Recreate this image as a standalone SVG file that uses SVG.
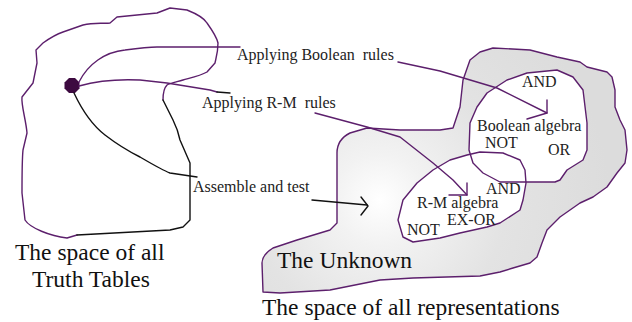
<svg xmlns="http://www.w3.org/2000/svg" width="632" height="322" viewBox="0 0 632 322">
  <defs>
    <radialGradient id="unknownFill" gradientUnits="userSpaceOnUse" cx="380" cy="200" r="230">
      <stop offset="0" stop-color="#ffffff"/>
      <stop offset="0.2" stop-color="#f2f2f2"/>
      <stop offset="0.55" stop-color="#e3e3e3"/>
      <stop offset="1" stop-color="#dcdcdc"/>
    </radialGradient>
  </defs>
  <style>
    .outline { fill: none; stroke: #5c1f6c; stroke-width: 1.4; stroke-linejoin: round; stroke-linecap: round; }
    .ink { fill: none; stroke: #111111; stroke-width: 1.4; stroke-linejoin: round; stroke-linecap: round; }
    .big { font-family: "Liberation Serif", "Times New Roman", serif; font-size: 23.5px; fill: #111111; }
    .small { font-family: "Liberation Serif", "Times New Roman", serif; font-size: 16px; fill: #222222; white-space: pre; }
  </style>

  <rect width="632" height="322" fill="#ffffff"/>

  <!-- space of all truth tables -->
  <g id="truth-tables">
    <path class="outline" d="M 77,235 L 67,238 C 50,236 30,228 25,220 L 22,193 C 22,170 22,160 23,150 L 27,133 C 26,120 21,105 22,97 L 33,83 L 37,63 L 36,50 L 43,43 C 50,38 57,34 63,32 L 83,25 C 95,22 105,24 110,23 L 117,17 L 157,13 L 170,8 L 187,10 C 197,14 204,18 207,23 C 212,30 217,38 218,43 C 218,52 216,58 215,63 L 207,72 C 200,76 190,78 183,80 C 176,82 170,83 167,85 C 163,89 163,95 163,100"/>
    <path class="ink" d="M 163,100 L 173,120 C 177,128 179,135 180,140 L 190,163 L 190,220 L 183,227 L 170,230 L 77,235"/>
    <polygon id="start-point" points="75,78 79.5,82.5 79.5,88.5 75,93 69,93 64.5,88.5 64.5,82.5 69,78" fill="#3d0a40"/>
    <text class="big" x="15" y="260">The space of all</text>
    <text class="big" x="32" y="287">Truth Tables</text>
  </g>

  <!-- space of all representations -->
  <g id="unknown">
    <path d="M 350,133 C 340,138 337,145 337,153 L 337,223 L 330,230 L 297,240 L 273,248 C 265,253 262,258 262,263 L 263,292 L 280,293 L 330,290 L 380,280 L 413,278 L 480,276 L 500,272 L 513,268 L 530,263 L 537,257 L 542,243 L 547,230 L 560,217 L 580,203 L 593,197 L 607,187 L 617,173 L 625,163 L 627,150 L 625,130 L 620,120 L 615,107 L 615,90 L 612,77 L 607,72 L 587,67 L 580,62 L 557,57 L 530,50 L 493,48 L 480,52 L 470,60 L 463,80 L 460,107 L 453,128 L 440,130 L 400,130 L 367,128 Z" fill="url(#unknownFill)" stroke="#5c1f6c" stroke-width="1.4" stroke-linejoin="round"/>
    <text class="big" x="277" y="268">The Unknown</text>
    <text class="big" x="262" y="315">The space of all representations</text>
  </g>

  <!-- Boolean algebra region -->
  <g id="boolean-algebra">
    <path id="boolean-shape" d="M 487,93 L 507,80 L 527,73 L 557,70 L 573,77 L 583,90 L 587,123 L 587,150 L 583,160 L 567,170 L 560,180 L 555,182 L 500,182 L 483,173 L 473,163 L 469,150 L 470,123 L 477,107 Z" fill="#ffffff"/>
  </g>

  <!-- R-M algebra region -->
  <g id="rm-algebra">
    <path id="rm-shape" d="M 467,155 L 480,152 L 503,153 L 520,160 L 525,170 L 526,183 L 523,200 L 520,210 L 500,223 L 487,227 L 460,233 L 440,238 L 413,242 L 403,237 L 398,220 L 403,200 L 417,183 L 433,170 L 450,160 Z" fill="#ffffff"/>
  </g>

  <!-- region outlines drawn over both fills -->
  <g id="region-outlines">
    <path class="outline" d="M 487,93 L 507,80 L 527,73 L 557,70 L 573,77 L 583,90 L 587,123 L 587,150 L 583,160 L 567,170 L 560,180 L 555,182 L 500,182 L 483,173 L 473,163 L 469,150 L 470,123 L 477,107 Z"/>
    <path class="outline" d="M 467,155 L 480,152 L 503,153 L 520,160 L 525,170 L 526,183 L 523,200 L 520,210 L 500,223 L 487,227 L 460,233 L 440,238 L 413,242 L 403,237 L 398,220 L 403,200 L 417,183 L 433,170 L 450,160 Z"/>
  </g>

  <g id="region-labels">
    <text class="small" x="522" y="87">AND</text>
    <text class="small" x="477" y="131">Boolean algebra</text>
    <text class="small" x="485" y="148">NOT</text>
    <text class="small" x="548" y="155">OR</text>
    <text class="small" x="486" y="194">AND</text>
    <text class="small" x="417" y="208">R-M algebra</text>
    <text class="small" x="447" y="225">EX-OR</text>
    <text class="small" x="407" y="235">NOT</text>
  </g>

  <!-- connectors -->
  <g id="connectors">
    <!-- Applying Boolean rules -->
    <path class="outline" d="M 79,82 C 88,64 105,52 125,50 C 140,48 150,47 157,47 L 240,47"/>
    <path class="outline" d="M 398,62 L 440,71 L 497,88 L 547,113"/>
    <path class="outline" d="M 547,100 L 547,113 L 527,119"/>
    <!-- Applying R-M rules -->
    <path class="outline" d="M 79,86 C 100,80 120,79 140,80 L 167,83 L 210,90 L 217,92"/>
    <path class="ink" d="M 217,92 L 230,93"/>
    <path class="outline" d="M 315,113 L 367,127 L 400,137 L 433,163 L 453,180 L 467,195"/>
    <path class="outline" d="M 467,183 L 467,195 L 449,195"/>
    <!-- Assemble and test -->
    <path class="ink" d="M 74,93 C 82,110 92,125 105,135 C 118,145 130,152 140,157 C 152,164 162,170 170,173 L 197,177"/>
    <path class="ink" d="M 312,200 L 367,205"/>
    <path class="ink" d="M 361,197 L 368,206 L 361,215"/>
  </g>

  <g id="connector-labels">
    <text class="small" x="237" y="60">Applying Boolean  rules</text>
    <text class="small" x="202" y="108">Applying R-M  rules</text>
    <text class="small" x="193" y="192">Assemble and test</text>
  </g>
</svg>
